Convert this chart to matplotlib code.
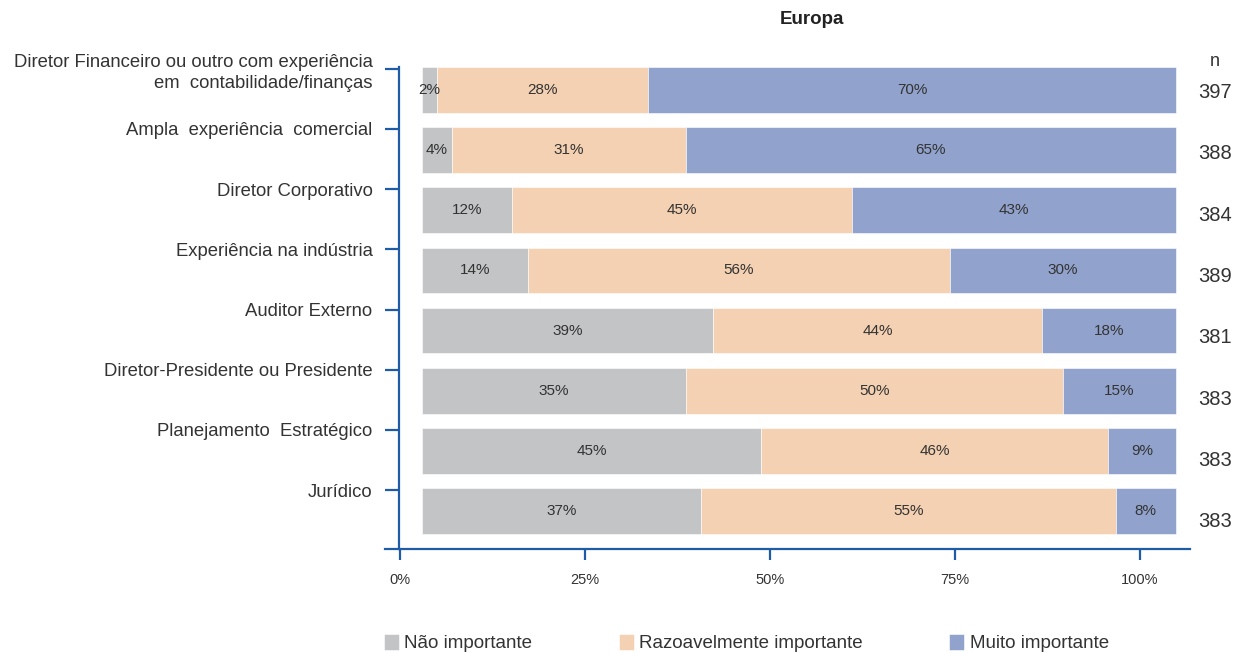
import numpy as np
import matplotlib.pyplot as plt

plt.rcParams['font.family'] = ['Liberation Sans', 'DejaVu Sans']

categories = ['Diretor Financeiro ou outro com experiência\nem  contabilidade/finanças',
              'Ampla  experiência  comercial',
              'Diretor Corporativo',
              'Experiência na indústria',
              'Auditor Externo',
              'Diretor-Presidente ou Presidente',
              'Planejamento  Estratégico',
              'Jurídico']
nao = [2, 4, 12, 14, 39, 35, 45, 37]
razoavel = [28, 31, 45, 56, 44, 50, 46, 55]
muito = [70, 65, 43, 30, 18, 15, 9, 8]
n_values = [397, 388, 384, 389, 381, 383, 383, 383]
series_names = ['Não importante', 'Razoavelmente importante', 'Muito importante']
ticks_pct = [0, 25, 50, 75, 100]

c_grey = '#c3c4c6'
c_peach = '#f4d1b2'
c_blue = '#91a3cd'
c_axis = '#1f5ca8'
c_text = '#333333'

W, H = 1236, 653
fig = plt.figure(figsize=(W / 100, H / 100), dpi=100)

# axes box in pixels
x0, x1 = 385, 1190
y_top, y_bot = 67, 549
ax = fig.add_axes([x0 / W, (H - y_bot) / H, (x1 - x0) / W, (y_bot - y_top) / H])

y = np.arange(len(categories))
nao = np.array(nao, dtype=float)
razoavel = np.array(razoavel, dtype=float)
muito = np.array(muito, dtype=float)
# rounded labels don't always sum to 100, bars are drawn as full 100% stacks
tot = nao + razoavel + muito
w1 = nao / tot * 100
w2 = razoavel / tot * 100
w3 = muito / tot * 100

h = 0.76
b1 = ax.barh(y, w1, height=h, color=c_grey, edgecolor='white', linewidth=0.4)
b2 = ax.barh(y, w2, left=w1, height=h, color=c_peach, edgecolor='white', linewidth=0.4)
b3 = ax.barh(y, w3, left=w1 + w2, height=h, color=c_blue, edgecolor='white', linewidth=0.4)

for cont, vals in [(b1, nao), (b2, razoavel), (b3, muito)]:
    ax.bar_label(cont, labels=[f'{int(v)}%' for v in vals], label_type='center',
                 fontsize=11, color=c_text)

# bars: 0 at px 422, 100 at px 1176
ppu = (1176 - 422) / 100
ax.set_xlim((x0 - 422) / ppu, (x1 - 422) / ppu)
ax.set_ylim(len(categories) - 1 + 0.63, -0.38)

for s in ['top', 'right']:
    ax.spines[s].set_visible(False)
ax.spines['left'].set_position(('data', (399 - 422) / ppu))
for s in ['left', 'bottom']:
    ax.spines[s].set_color(c_axis)
    ax.spines[s].set_linewidth(1.6)

ax.set_yticks(y - 0.35)
ax.set_yticklabels(categories, fontsize=13.3, color=c_text, linespacing=1.35)
ax.tick_params(axis='y', direction='out', length=10, width=1.6, color=c_axis, pad=9)

# percentage scale: 0 at px 400, 100 at px 1140
ax2 = ax.twiny()
sppu = (1140 - 400) / 100
ax2.set_xlim((x0 - 400) / sppu, (x1 - 400) / sppu)
ax2.xaxis.set_ticks_position('bottom')
ax2.set_xticks(ticks_pct)
ax2.set_xticklabels([f'{t}%' for t in ticks_pct], fontsize=10.5, color=c_text)
ax2.tick_params(axis='x', direction='out', length=8, width=1.6, color=c_axis, pad=9)
for s in ax2.spines.values():
    s.set_visible(False)
ax.tick_params(axis='x', which='both', bottom=False, top=False,
               labelbottom=False, labeltop=False)

# n column
fig.text(1215 / W, 1 - 62 / H, 'n', ha='center', va='center', fontsize=13, color=c_text)
for i, n in enumerate(n_values):
    ax.text((1215 - 422) / ppu, i + 0.04 + 0.02 * i, str(n), ha='center', va='center',
            fontsize=14.5, color=c_text)

fig.text(812 / W, 1 - 19 / H, 'Europa', ha='center', va='center', fontsize=13.5,
         fontweight='bold', color='#222222')

fig.legend([b1, b2, b3], series_names, loc='center left',
           bbox_to_anchor=(367 / W, 1 - 643 / H), ncol=3, frameon=False,
           fontsize=13.5, handlelength=0.8, handleheight=1.0, handletextpad=0.3,
           columnspacing=4.6, labelcolor=c_text)

fig.savefig('out.png', dpi=100)
